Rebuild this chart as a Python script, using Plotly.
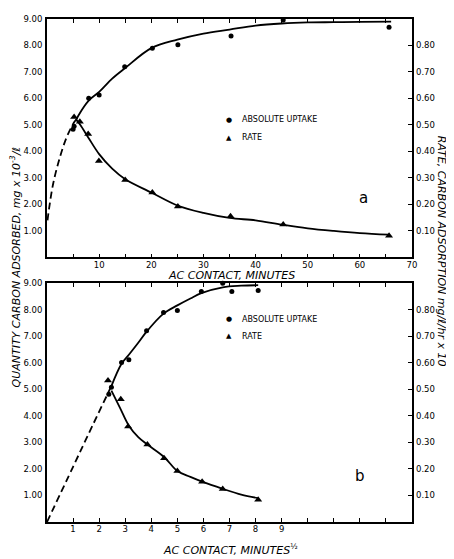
import plotly.graph_objects as go

# ---------------- data: panel a (time, minutes) ----------------
a_uptake_x = [5.0, 5.2, 8.0, 10.0, 14.9, 20.2, 25.1, 35.3, 45.3, 65.6]
a_uptake_y = [4.84, 4.95, 6.01, 6.13, 7.20, 7.90, 8.03, 8.36, 8.96, 8.69]
a_rate_x = [5.2, 6.3, 7.9, 9.95, 15.0, 20.2, 25.1, 35.2, 45.3, 65.6]
a_rate_y = [0.53, 0.512, 0.466, 0.364, 0.292, 0.245, 0.192, 0.155, 0.124, 0.082]

a_fit_up_x = [5.5, 6, 8, 10, 12.5, 15, 20, 25, 30, 35, 40, 45, 50, 55, 60, 66]
a_fit_up_y = [5.15, 5.35, 5.92, 6.25, 6.75, 7.15, 7.9, 8.22, 8.45, 8.6, 8.75, 8.83, 8.87, 8.88, 8.89, 8.9]
a_ext_x = [0.1, 0.4, 1.2, 2.5, 3.8, 5.2, 5.6]
a_ext_y = [1.4, 1.85, 2.8, 3.8, 4.55, 5.1, 5.2]
a_fit_rate_x = [5.6, 6.4, 8, 10, 12.5, 15, 20, 25, 30, 35, 40, 45, 50, 55, 60, 65.6]
a_fit_rate_y = [0.52, 0.50, 0.45, 0.39, 0.335, 0.295, 0.245, 0.196, 0.168, 0.149, 0.14, 0.124, 0.11, 0.10, 0.092, 0.086]

# ---------------- data: panel b (minutes^1/2) ----------------
b_uptake_x = [2.37, 2.47, 2.86, 3.14, 3.82, 4.47, 5.0, 5.92, 6.74, 7.09, 8.1]
b_uptake_y = [4.81, 5.08, 6.01, 6.11, 7.20, 7.89, 7.97, 8.68, 8.99, 8.68, 8.72]
b_rate_x = [2.34, 2.83, 3.11, 3.85, 4.49, 5.0, 5.95, 6.74, 8.1]
b_rate_y = [0.533, 0.462, 0.36, 0.292, 0.24, 0.192, 0.152, 0.124, 0.084]

b_fit_up_x = [2.47, 2.86, 3.14, 3.5, 3.82, 4.47, 5.0, 5.5, 5.92, 6.74, 7.45, 8.1]
b_fit_up_y = [5.12, 5.96, 6.3, 6.75, 7.17, 7.85, 8.16, 8.42, 8.62, 8.84, 8.9, 8.92]
b_ext_x = [0.0, 1.0, 1.73, 2.47]
b_ext_y = [0.0, 2.08, 3.6, 5.12]
b_fit_rate_x = [2.47, 2.8, 3.14, 3.5, 3.85, 4.49, 5.0, 5.5, 5.95, 6.74, 7.45, 8.1]
b_fit_rate_y = [0.495, 0.43, 0.363, 0.32, 0.292, 0.245, 0.192, 0.17, 0.152, 0.125, 0.103, 0.09]

# ticks
a_xticks = [5, 10, 15, 20, 25, 30, 35, 40, 45, 50, 55, 60, 65, 70]
a_xlabels = ["", "10", "", "20", "", "30", "", "40", "", "50", "", "60", "", "70"]
b_xticks = list(range(1, 14))
b_xlabels = ["1", "2", "3", "4", "5", "6", "7", "8", "9", "", "", "", ""]
left_ticks = [1, 2, 3, 4, 5, 6, 7, 8, 9]
left_labels = ["1.00", "2.00", "3.00", "4.00", "5.00", "6.00", "7.00", "8.00", "9.00"]
right_ticks = [0.1, 0.2, 0.3, 0.4, 0.5, 0.6, 0.7, 0.8]
right_labels = ["0.10", "0.20", "0.30", "0.40", "0.50", "0.60", "0.70", "0.80"]

FONT = "DejaVu Sans"
BLK = "black"

fig = go.Figure()

def line(x, y, xa, ya, dash="solid", w=1.8):
    fig.add_trace(go.Scatter(x=x, y=y, xaxis=xa, yaxis=ya, mode="lines",
                             line=dict(color=BLK, width=w, dash=dash, shape="spline"),
                             showlegend=False, hoverinfo="skip", cliponaxis=False))

def pts(x, y, xa, ya, sym, size):
    fig.add_trace(go.Scatter(x=x, y=y, xaxis=xa, yaxis=ya, mode="markers",
                             marker=dict(color=BLK, symbol=sym, size=size),
                             showlegend=False, cliponaxis=False))

# panel a (top): xaxis2, yaxis3 (left), yaxis4 (right)
line(a_ext_x, a_ext_y, "x2", "y3", dash="7px,4px")
line(a_fit_up_x, a_fit_up_y, "x2", "y3")
line(a_fit_rate_x, a_fit_rate_y, "x2", "y4")
pts(a_uptake_x, a_uptake_y, "x2", "y3", "circle", 5)
pts(a_rate_x, a_rate_y, "x2", "y4", "triangle-up", 7)

# panel b (bottom): xaxis, yaxis (left), yaxis2 (right)
line(b_ext_x, b_ext_y, "x", "y", dash="7px,4px")
line(b_fit_up_x, b_fit_up_y, "x", "y")
line(b_fit_rate_x, b_fit_rate_y, "x", "y2")
pts(b_uptake_x, b_uptake_y, "x", "y", "circle", 5)
pts(b_rate_x, b_rate_y, "x", "y2", "triangle-up", 7)

tickfont = dict(family=FONT, size=8.5, color=BLK)

xcommon = dict(showline=True, linecolor=BLK, linewidth=1.8, mirror="ticks",
               ticks="inside", ticklen=4, tickwidth=1.3, tickcolor=BLK,
               showgrid=False, zeroline=False, tickfont=tickfont, ticklabelstandoff=-2)
ycommon = dict(showline=True, linecolor=BLK, linewidth=1.8, mirror=True,
               ticks="", showgrid=False, zeroline=False, tickfont=tickfont,
               range=[0, 9], tickvals=left_ticks, ticktext=left_labels, ticklabelstandoff=1)
rcommon = dict(side="right", range=[0, 0.9], showline=False,
               ticks="inside", ticklen=4, tickwidth=1.3, tickcolor=BLK,
               showgrid=False, zeroline=False, tickfont=tickfont,
               tickvals=right_ticks, ticktext=right_labels, ticklabelstandoff=3)

# the page body has an 8px margin: size and margins compensate for it
fig.update_layout(
    width=446, height=551,
    margin=dict(l=39, r=42, t=6, b=37),
    paper_bgcolor="white", plot_bgcolor="white",
    font=dict(family=FONT, color=BLK),
    xaxis=dict(domain=[0, 1], anchor="y", range=[0, 14],
               tickvals=b_xticks, ticktext=b_xlabels, **xcommon),
    yaxis=dict(domain=[0, 0.475], anchor="x", **ycommon),
    yaxis2=dict(anchor="x", overlaying="y", **rcommon),
    xaxis2=dict(domain=[0, 1], anchor="y3", range=[0, 70],
                tickvals=a_xticks, ticktext=a_xlabels, **xcommon),
    yaxis3=dict(domain=[0.526, 1], anchor="x2", **ycommon),
    yaxis4=dict(anchor="x2", overlaying="y3", **rcommon),
)

def px_x(p):
    return (p - 47) / 365.0

def px_y(q):
    return (522 - q) / 508.0

ann = []
def note(text, x, y, size, angle=0, xanchor="center", yanchor="middle"):
    ann.append(dict(text=text, x=x, y=y, xref="paper", yref="paper",
                    showarrow=False, textangle=angle, xanchor=xanchor, yanchor=yanchor,
                    font=dict(family=FONT, size=size, color=BLK)))

# legends (top and bottom)
for r1, r2 in [(116, 134), (317.3, 334.3)]:
    note("●", px_x(229), px_y(r1), 7)
    note("ABSOLUTE UPTAKE", px_x(240), px_y(r1), 8, xanchor="left")
    note("▲", px_x(229), px_y(r2), 7)
    note("RATE", px_x(240), px_y(r2), 8, xanchor="left")

note("a", px_x(363), px_y(195), 15)
note("b", px_x(360), px_y(476), 15)

note("<i>AC CONTACT, MINUTES</i>", px_x(231), px_y(273), 11)
note("<i>AC CONTACT, MINUTES</i><sup>½</sup>", px_x(230), px_y(550), 11)
note("<i>QUANTITY CARBON ADSORBED, mg x 10<sup>-3</sup>/ℓ</i>", px_x(16), px_y(265), 11, angle=-90)
note("<i>RATE, CARBON ADSORPTION mg/ℓ/hr x 10</i>", px_x(441), px_y(248), 11, angle=90)

fig.update_layout(annotations=ann)

fig.write_html("out.html")
